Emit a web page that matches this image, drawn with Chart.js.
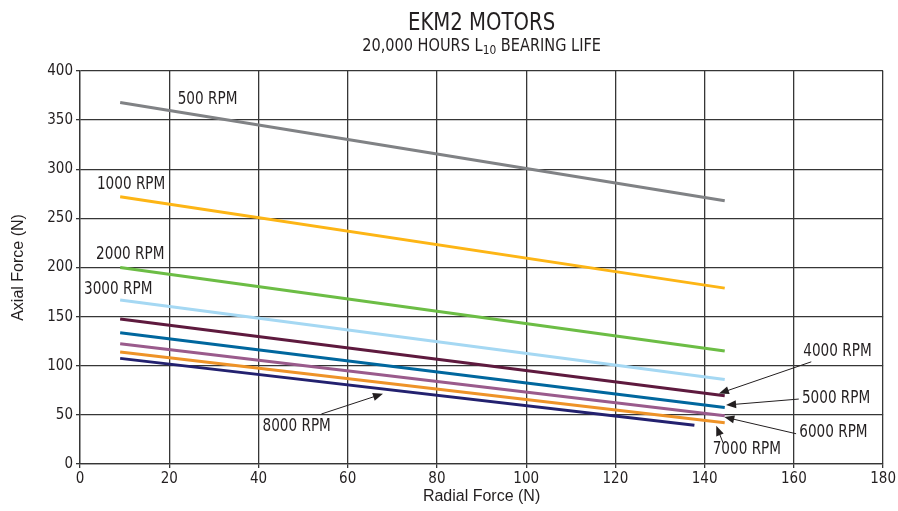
<!DOCTYPE html>
<html>
<head>
<meta charset="utf-8">
<script src="https://cdn.jsdelivr.net/npm/chart.js@4.4.1/dist/chart.umd.min.js"></script>
<style>
  html, body { margin: 0; padding: 0; background: #fff; }
  #wrap { width: 898px; height: 511px; }
</style>
</head>
<body>
<div id="wrap"><canvas id="myChart" width="898" height="511"></canvas></div>
<script>
// speeds and the straight bearing-life lines
const speeds = ['500 RPM', '1000 RPM', '2000 RPM', '3000 RPM', '4000 RPM', '5000 RPM', '6000 RPM', '7000 RPM', '8000 RPM']
const radialStart = [9, 9, 9, 9, 9, 9, 9, 9, 9]
const radialEnd = [144.5, 144.5, 144.5, 144.5, 144.5, 144.5, 144.5, 144.5, 137.7]
const axialStart = [368, 272, 200, 167, 147.5, 133.5, 122.5, 114, 107.5]
const axialEnd = [268, 179, 115, 86, 69.5, 57.5, 49, 42, 39.5]
const lineColors = ['#808285', '#fdb515', '#6cbd45', '#a5d8f3', '#5e1a3e', '#00679e', '#9a5b8c', '#ee9328', '#23216f']

const xTicks = [0, 20, 40, 60, 80, 100, 120, 140, 160, 180]
const yTicks = [0, 50, 100, 150, 200, 250, 300, 350, 400]

// where each speed label sits (data units) and optional arrow tail -> head
const labelSpots = [
  { x: 21.9, y: 371 },
  { x: 3.8, y: 284 },
  { x: 3.6, y: 213 },
  { x: 0.9, y: 178 },
  { x: 162.1, y: 114, arrow: [163.9, 104, 143.2, 71.7] },
  { x: 161.8, y: 67, arrow: [161.1, 66.1, 144.8, 60] },
  { x: 161.2, y: 31.5, arrow: [160.5, 30.8, 144.4, 47.8] },
  { x: 141.8, y: 14.5, arrow: [144.2, 20.7, 142.6, 39] },
  { x: 40.9, y: 37.6, arrow: [54.1, 50.9, 67.9, 71.5] }
]

const narrow = '"Liberation Sans Narrow", "DejaVu Sans Condensed", sans-serif'
const regular = '"Liberation Sans", Arial, sans-serif'
const ink = '#231f20'
const gridInk = '#363636'

let datasets = []
speeds.forEach((s, i) => {
  datasets.push({
    label: s,
    data: [{ x: radialStart[i], y: axialStart[i] }, { x: radialEnd[i], y: axialEnd[i] }],
    borderColor: lineColors[i],
    borderWidth: 3,
    borderCapStyle: 'butt',
    pointRadius: 0,
    tension: 0,
    fill: false
  })
})

// squeezed text, the original uses a condensed face
function squeezed(ctx, text, x, y, sx) {
  ctx.save()
  ctx.translate(x, y)
  ctx.scale(sx, 1)
  ctx.fillText(text, 0, 0)
  ctx.restore()
}

const annotate = {
  id: 'annotate',
  afterDatasetsDraw(chart) {
    const ctx = chart.ctx
    const xs = chart.scales.x
    const ys = chart.scales.y
    ctx.save()
    ctx.fillStyle = ink
    ctx.strokeStyle = ink
    ctx.font = '17px ' + narrow
    ctx.textAlign = 'left'
    ctx.textBaseline = 'middle'
    labelSpots.forEach((spot, i) => {
      squeezed(ctx, speeds[i], xs.getPixelForValue(spot.x), ys.getPixelForValue(spot.y), 0.89)
      if (spot.arrow) {
        const x1 = xs.getPixelForValue(spot.arrow[0])
        const y1 = ys.getPixelForValue(spot.arrow[1])
        const x2 = xs.getPixelForValue(spot.arrow[2])
        const y2 = ys.getPixelForValue(spot.arrow[3])
        const ang = Math.atan2(y2 - y1, x2 - x1)
        const len = 10
        ctx.lineWidth = 1
        ctx.beginPath()
        ctx.moveTo(x1, y1)
        ctx.lineTo(x2 - Math.cos(ang) * len * 0.8, y2 - Math.sin(ang) * len * 0.8)
        ctx.stroke()
        ctx.beginPath()
        ctx.moveTo(x2, y2)
        ctx.lineTo(x2 - Math.cos(ang) * len + Math.sin(ang) * 4, y2 - Math.sin(ang) * len - Math.cos(ang) * 4)
        ctx.lineTo(x2 - Math.cos(ang) * len - Math.sin(ang) * 4, y2 - Math.sin(ang) * len + Math.cos(ang) * 4)
        ctx.closePath()
        ctx.fill()
      }
    })
    ctx.restore()
  },
  afterDraw(chart) {
    // title + subtitle with the subscript in L10
    const ctx = chart.ctx
    const area = chart.chartArea
    const cx = (area.left + area.right) / 2
    ctx.save()
    ctx.fillStyle = ink
    ctx.textBaseline = 'alphabetic'
    ctx.textAlign = 'left'
    ctx.font = '25px ' + narrow
    let sx = 0.875
    let w = ctx.measureText('EKM2 MOTORS').width * sx
    squeezed(ctx, 'EKM2 MOTORS', cx - w / 2, 30, sx)

    const partA = '20,000 HOURS L'
    const sub = '10'
    const partB = ' BEARING LIFE'
    const big = '17px ' + narrow
    const small = '12.5px ' + narrow
    sx = 0.95
    ctx.font = big
    const wA = ctx.measureText(partA).width * sx
    const wB = ctx.measureText(partB).width * sx
    ctx.font = small
    const wS = ctx.measureText(sub).width * sx
    let x = cx - (wA + wS + wB) / 2
    ctx.font = big
    squeezed(ctx, partA, x, 51, sx)
    x += wA
    ctx.font = small
    squeezed(ctx, sub, x, 54, sx)
    x += wS
    ctx.font = big
    squeezed(ctx, partB, x, 51, sx)
    ctx.restore()
  }
}

new Chart(document.getElementById('myChart').getContext('2d'), {
  type: 'line',
  data: { datasets: datasets },
  plugins: [annotate],
  options: {
    responsive: false,
    animation: false,
    layout: { padding: { left: 0, right: 12, top: 71, bottom: 0 } },
    plugins: {
      legend: { display: false },
      tooltip: { enabled: false },
      title: { display: false }
    },
    scales: {
      x: {
        type: 'linear',
        min: 0,
        max: 180,
        afterBuildTicks: (scale) => { scale.ticks = xTicks.map(v => ({ value: v })) },
        afterFit: (scale) => { scale.height = 47 },
        grid: { color: gridInk, lineWidth: 1.3, tickLength: 4 },
        border: { color: gridInk, width: 1.3 },
        ticks: { color: ink, font: { family: narrow, size: 15 }, padding: 2, maxRotation: 0 },
        title: { display: true, text: 'Radial Force (N)', color: ink, font: { family: regular, size: 16 }, padding: { top: 0, bottom: 5 } }
      },
      y: {
        type: 'linear',
        min: 0,
        max: 400,
        afterBuildTicks: (scale) => { scale.ticks = yTicks.map(v => ({ value: v })) },
        afterFit: (scale) => { scale.width = 80 },
        grid: { color: gridInk, lineWidth: 1.3, tickLength: 4 },
        border: { color: gridInk, width: 1.3 },
        ticks: { color: ink, font: { family: narrow, size: 15 }, padding: 3 },
        title: { display: true, text: 'Axial Force (N)', color: ink, font: { family: regular, size: 16 }, padding: { top: 9, bottom: 0 } }
      }
    }
  }
})
</script>
</body>
</html>
